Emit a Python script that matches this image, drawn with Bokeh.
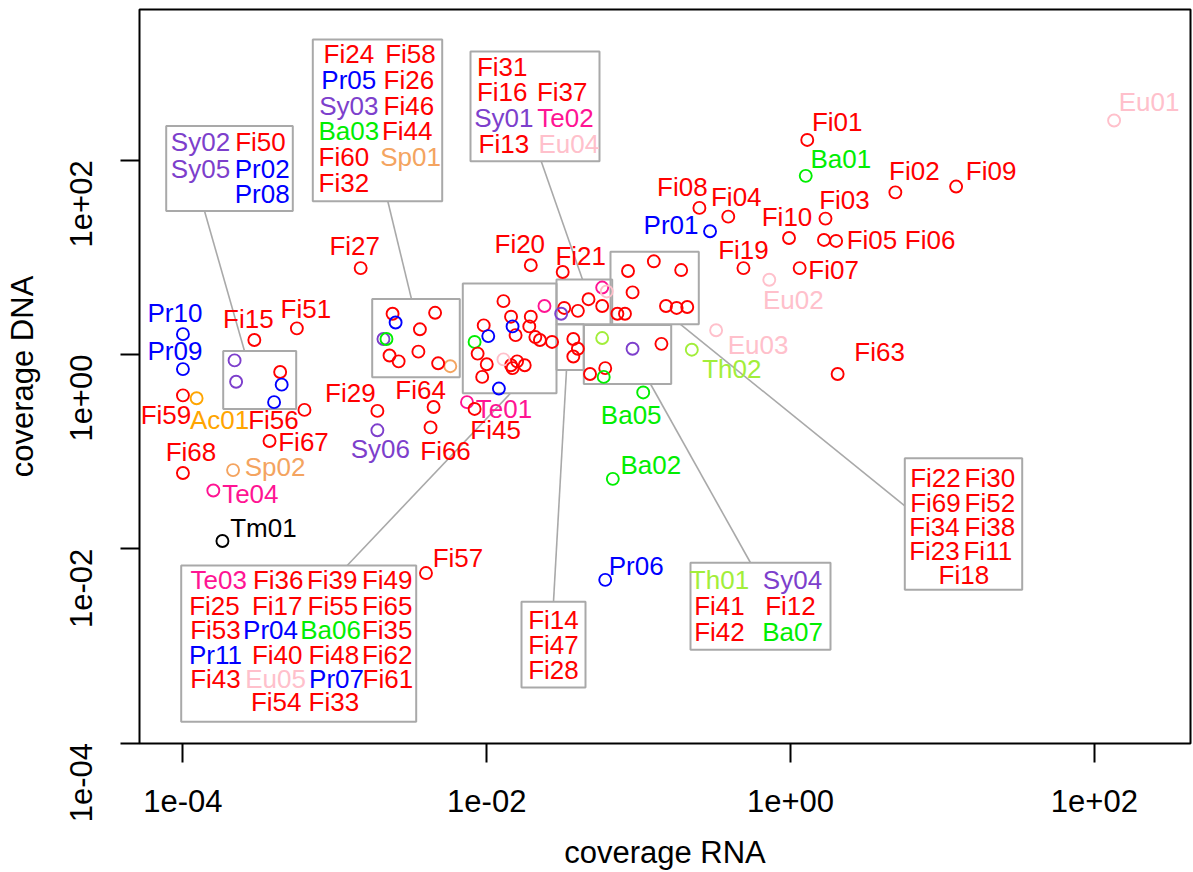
import numpy as np
from bokeh.plotting import figure
from bokeh.models import Range1d, FixedTicker, CustomJSTickFormatter
from bokeh.embed import file_html
from bokeh.resources import INLINE
from bokeh.core.properties import value

# ---------------- data (log10 of coverage) ----------------
names = ["Pr10", "Pr09", "Fi59", "Ac01", "Fi15", "Fi51", "Fi56", "Fi67", "Fi68", "Sp02",
         "Te04", "Tm01", "Fi29", "Sy06", "Fi64", "Fi66", "Te01", "Fi45", "Fi27", "Fi20",
         "Fi21", "Fi57", "Pr06", "Ba02", "Ba05", "Th02", "Eu03", "Eu02", "Fi63", "Pr01",
         "Fi08", "Fi04", "Fi19", "Fi10", "Fi07", "Fi03", "Fi05", "Fi06", "Fi01", "Ba01",
         "Fi02", "Fi09", "Eu01",
         "Sy02", "Sy05", "Fi50", "Pr02", "Pr08",
         "Fi24", "Fi58", "Pr05", "Fi26", "Sy03", "Fi46", "Ba03", "Fi44", "Fi60", "Sp01", "Fi32",
         "Te03", "Fi36", "Fi39", "Fi49", "Fi25", "Fi17", "Fi55", "Fi65", "Fi53", "Pr04", "Ba06",
         "Fi35", "Pr11", "Fi40", "Fi48", "Fi62", "Fi43", "Eu05", "Pr07", "Fi61", "Fi54", "Fi33",
         "Fi31", "Fi16", "Fi37", "Sy01", "Te02", "Fi13", "Eu04",
         "Fi22", "Fi30", "Fi69", "Fi52", "Fi34", "Fi38", "Fi23", "Fi11", "Fi18",
         "Fi14", "Fi47", "Fi28",
         "Th01", "Sy04", "Fi41", "Fi12", "Fi42", "Ba07"]

log10_rna = [-4.00, -4.00, -4.00, -3.91, -3.53, -3.25, -3.20, -3.43, -4.00, -3.67,
             -3.80, -3.74, -2.72, -2.72, -2.35, -2.37, -2.13, -2.08, -2.83, -1.71,
             -1.50, -2.40, -1.22, -1.17, -0.97, -0.65, -0.49, -0.14, 0.31, -0.53,
             -0.60, -0.41, -0.31, -0.01, 0.06, 0.23, 0.22, 0.30, 0.11, 0.10,
             0.69, 1.09, 2.13,
             -3.66, -3.65, -3.36, -3.35, -3.40,
             -2.62, -2.34, -2.60, -2.44, -2.68, -2.45, -2.66, -2.64, -2.58, -2.24, -2.32,
             -1.62, -1.89, -1.84, -1.71, -2.02, -1.72, -1.81, -1.68, -1.65, -1.99, -2.08,
             -1.57, -1.83, -2.06, -2.00, -2.03, -1.84, -1.89, -1.92, -1.80, -1.75, -1.83,
             -1.33, -1.24, -1.49, -1.51, -1.24, -1.40, -1.21,
             -1.07, -0.90, -0.72, -1.04, -0.82, -0.75, -0.68, -1.14, -1.09,
             -1.43, -1.40, -1.43,
             -1.24, -1.04, -0.85, -1.32, -1.22, -1.23]

log10_dna = [0.21, -0.15, -0.42, -0.45, 0.15, 0.27, -0.57, -0.89, -1.22, -1.19,
             -1.40, -1.92, -0.58, -0.78, -0.54, -0.75, -0.49, -0.56, 0.89, 0.92,
             0.85, -2.25, -2.32, -1.28, -0.39, 0.05, 0.25, 0.77, -0.20, 1.27,
             1.51, 1.42, 0.89, 1.20, 0.89, 1.40, 1.18, 1.17, 2.21, 1.84,
             1.67, 1.73, 2.41,
             -0.06, -0.28, -0.18, -0.31, -0.49,
             0.42, 0.43, 0.33, 0.26, 0.16, 0.03, 0.16, -0.01, -0.07, -0.12, -0.09,
             0.50, 0.55, 0.39, 0.39, 0.30, 0.29, 0.20, 0.18, 0.15, 0.19, 0.13,
             0.13, 0.29, 0.01, -0.10, -0.23, -0.11, -0.05, -0.35, -0.07, -0.11, -0.14,
             0.57, 0.50, 0.48, 0.42, 0.69, 0.45, 0.65,
             0.86, 0.96, 0.87, 0.64, 0.50, 0.48, 0.49, 0.42, 0.42,
             0.16, 0.06, -0.02,
             0.17, 0.06, 0.11, -0.20, -0.14, -0.23]

group_colors = {"Fi": "#FF0000", "Pr": "#0000FF", "Sy": "#7D3FCC", "Ba": "#00EE00",
                "Th": "#A2EE3A", "Ac": "#FFA500", "Sp": "#F4A460", "Te": "#FF1493",
                "Eu": "#FFC0CB", "Tm": "#000000"}

# ---------------- layout (pixel positions of the reference) ----------------
FRAME_L, FRAME_R, FRAME_T, FRAME_B = 139, 1190, 9, 744
XLOG = (-4.286, 2.633)
YLOG = (-4.005, 3.553)


def px2x(px):
    return 10 ** (XLOG[0] + (px - FRAME_L) / (FRAME_R - FRAME_L) * (XLOG[1] - XLOG[0]))


def py2y(py):
    return 10 ** (YLOG[1] - (py - FRAME_T) / (FRAME_B - FRAME_T) * (YLOG[1] - YLOG[0]))


# label offsets (screen px) for individually labelled points
label_offsets = {
    "Pr10": (-8, -21), "Pr09": (-8, -18), "Fi59": (-17, 20), "Ac01": (23, 22),
    "Fi15": (-6, -21), "Fi51": (9, -19), "Fi56": (-31, 10), "Fi67": (34, 1),
    "Fi68": (8, -21), "Sp02": (42, -3), "Te04": (37, 3), "Tm01": (41, -13),
    "Fi29": (-27, -18), "Sy06": (3, 19), "Fi64": (-13, -17), "Fi66": (15, 24),
    "Te01": (37, 7), "Fi45": (21, 21), "Fi27": (-6, -22), "Fi20": (-11, -21),
    "Fi21": (18, -16), "Fi57": (32, -15), "Pr06": (31, -14), "Ba02": (38, -14),
    "Ba05": (-12, 23), "Th02": (40, 19), "Eu03": (42, 15), "Eu02": (24, 20),
    "Fi63": (42, -22), "Pr01": (-39, -6), "Fi08": (-17, -21), "Fi04": (8, -20),
    "Fi19": (0, -18), "Fi10": (-2, -21), "Fi07": (34, 2), "Fi03": (19, -19),
    "Fi05": (48, 0), "Fi06": (94, -1), "Fi01": (30, -18), "Ba01": (35, -17),
    "Fi02": (19, -21), "Fi09": (35, -16), "Eu01": (35, -19),
}

# cluster rectangles (l, t, r, b) in px
cluster_boxes = [
    (222.7, 351, 295.7, 409), (371.7, 299, 459.3, 377.3), (462.3, 283.3, 556, 393.3),
    (556, 279.3, 611.7, 324.3), (610, 251.7, 698.3, 324.3), (556, 324.3, 583.3, 370),
    (583.3, 325, 670.7, 384),
]

# label boxes: rect, leader line, texts (name, cx, cy)
label_boxes = [
    ((165.7, 125.7, 292.3, 210.7), (204, 210.7, 244, 351),
     [("Sy02", 200, 141.7), ("Fi50", 260, 141.7), ("Sy05", 200, 168.3),
      ("Pr02", 261.7, 168.3), ("Pr08", 261.7, 193.3)]),
    ((312.3, 39, 441.7, 201), (387.3, 201, 411, 299),
     [("Fi24", 348.3, 53.3), ("Fi58", 410, 53.3), ("Pr05", 348.3, 80), ("Fi26", 408.3, 80),
      ("Sy03", 348.3, 106), ("Fi46", 408.3, 106), ("Ba03", 348.3, 130.7), ("Fi44", 406.7, 130.7),
      ("Fi60", 343.3, 156.7), ("Sp01", 410, 156.7), ("Fi32", 343.3, 182.7)]),
    ((470, 51, 599, 161), (540.7, 161, 582, 279.3),
     [("Fi31", 501.7, 66.7), ("Fi16", 501.7, 91.7), ("Fi37", 561.7, 91.7),
      ("Sy01", 503.3, 117.3), ("Te02", 565, 117.3), ("Fi13", 503.3, 143.3), ("Eu04", 568.3, 143.3)]),
    ((180.7, 565.7, 415.7, 722.3), (346.7, 565.7, 510, 393.3),
     [("Te03", 218.3, 580), ("Fi36", 277.7, 580), ("Fi39", 331.7, 580), ("Fi49", 386.7, 580),
      ("Fi25", 214, 606), ("Fi17", 276.7, 606), ("Fi55", 332.3, 606), ("Fi65", 386.7, 606),
      ("Fi53", 215, 630), ("Pr04", 270, 630), ("Ba06", 330, 630), ("Fi35", 386.7, 630),
      ("Pr11", 215, 655), ("Fi40", 276.7, 655), ("Fi48", 333.3, 655), ("Fi62", 386.7, 655),
      ("Fi43", 215, 679.3), ("Eu05", 275, 679.3), ("Pr07", 336, 679.3), ("Fi61", 387.3, 679.3),
      ("Fi54", 275.7, 702.7), ("Fi33", 333.3, 702.7)]),
    ((521, 602, 585, 688), (553, 602, 566, 370),
     [("Fi14", 553, 620), ("Fi47", 553, 645), ("Fi28", 553, 670)]),
    ((690, 563, 830, 650), (750, 563, 650, 384),
     [("Th01", 719, 580), ("Sy04", 792, 580), ("Fi41", 719, 606), ("Fi12", 790, 606),
      ("Fi42", 719, 632), ("Ba07", 792, 632)]),
    ((904.3, 458.3, 1021.7, 590), (904.3, 506, 680, 324.3),
     [("Fi22", 935, 478.3), ("Fi30", 989.3, 478.3), ("Fi69", 935, 502.7), ("Fi52", 989.3, 502.7),
      ("Fi34", 934, 527.7), ("Fi38", 989.3, 527.7), ("Fi23", 934, 551), ("Fi11", 987.3, 551),
      ("Fi18", 963.3, 575)]),
]

FONT = value("Liberation Sans")
LABEL_SIZE = "26px"
BOX_GREY = "#A9A9A9"

# ---------------- figure ----------------
p = figure(width=1193, height=872, x_axis_type="log", y_axis_type="log",
           x_range=Range1d(10 ** XLOG[0], 10 ** XLOG[1]),
           y_range=Range1d(10 ** YLOG[0], 10 ** YLOG[1]),
           output_backend="svg", toolbar_location=None,
           min_border_left=FRAME_L, min_border_right=1193 - FRAME_R,
           min_border_top=FRAME_T, min_border_bottom=872 - FRAME_B)
p.background_fill_color = "white"
p.border_fill_color = "white"
p.outline_line_color = "black"
p.outline_line_width = 2
p.xgrid.visible = False
p.ygrid.visible = False

fmt = CustomJSTickFormatter(code="""
const e = Math.round(Math.log10(tick));
const s = e < 0 ? '-' : '+';
const a = Math.abs(e);
return '1e' + s + (a < 10 ? '0' : '') + a;
""")
for ax in (p.xaxis[0], p.yaxis[0]):
    ax.ticker = FixedTicker(ticks=[1e-4, 1e-2, 1, 1e2], minor_ticks=[])
    ax.formatter = fmt
    ax.axis_line_color = None
    ax.major_tick_line_color = "black"
    ax.major_tick_line_width = 2
    ax.major_tick_out = 19
    ax.major_tick_in = 0
    ax.minor_tick_line_color = None
    ax.major_label_text_font = "Liberation Sans"
    ax.major_label_text_font_size = "31px"
    ax.major_label_text_color = "black"
    ax.axis_label_text_font = "Liberation Sans"
    ax.axis_label_text_font_size = "31px"
    ax.axis_label_text_font_style = "normal"
    ax.axis_label_text_color = "black"
p.xaxis.axis_label = "coverage RNA"
p.yaxis.axis_label = "coverage DNA"
p.xaxis.major_label_standoff = 27
p.xaxis.axis_label_standoff = 20
p.yaxis.major_label_orientation = np.pi / 2
p.yaxis.major_label_standoff = 39
p.yaxis.axis_label_standoff = 17

# cluster rectangles
p.quad(left=[px2x(b[0]) for b in cluster_boxes], right=[px2x(b[2]) for b in cluster_boxes],
       top=[py2y(b[1]) for b in cluster_boxes], bottom=[py2y(b[3]) for b in cluster_boxes],
       fill_color=None, line_color=BOX_GREY, line_width=2)

# leader lines
p.segment(x0=[px2x(lb[1][0]) for lb in label_boxes], y0=[py2y(lb[1][1]) for lb in label_boxes],
          x1=[px2x(lb[1][2]) for lb in label_boxes], y1=[py2y(lb[1][3]) for lb in label_boxes],
          line_color=BOX_GREY, line_width=1.6)

# label boxes
p.quad(left=[px2x(lb[0][0]) for lb in label_boxes], right=[px2x(lb[0][2]) for lb in label_boxes],
       top=[py2y(lb[0][1]) for lb in label_boxes], bottom=[py2y(lb[0][3]) for lb in label_boxes],
       fill_color="white", line_color=BOX_GREY, line_width=2)

# points
xs = 10 ** np.array(log10_rna)
ys = 10 ** np.array(log10_dna)
cols = [group_colors[n[:2]] for n in names]
p.scatter(x=xs, y=ys, marker="circle", size=12, fill_color=None, line_color=cols, line_width=1.9)

# individual point labels
idx = {n: i for i, n in enumerate(names)}
ln = list(label_offsets.keys())
p.text(x=[xs[idx[n]] for n in ln], y=[ys[idx[n]] for n in ln], text=ln,
       x_offset=[label_offsets[n][0] for n in ln], y_offset=[label_offsets[n][1] for n in ln],
       text_color=[group_colors[n[:2]] for n in ln], text_font=FONT, text_font_size=LABEL_SIZE,
       text_align="center", text_baseline="middle")

# texts in label boxes
bt, bx, by = [], [], []
for rect, line, items in label_boxes:
    for n, cx, cy in items:
        bt.append(n)
        bx.append(px2x(cx))
        by.append(py2y(cy))
p.text(x=bx, y=by, text=bt, text_color=[group_colors[n[:2]] for n in bt], text_font=FONT,
       text_font_size=LABEL_SIZE, text_align="center", text_baseline="middle")

open("out.html", "w").write(file_html(p, INLINE))
